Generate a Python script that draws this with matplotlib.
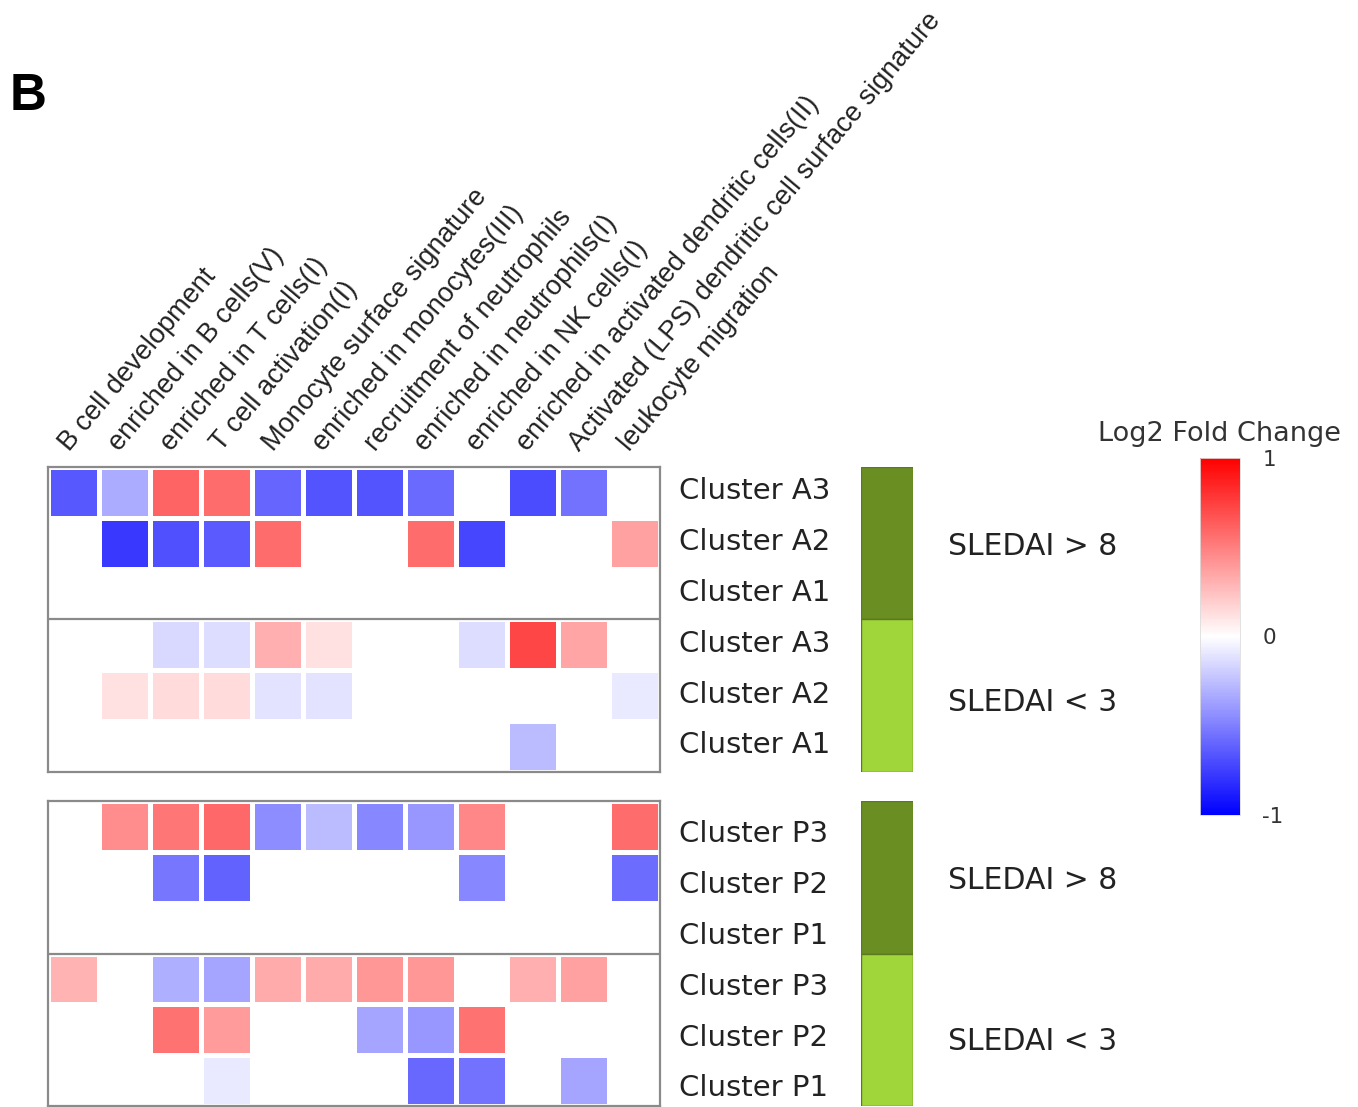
import numpy as np
import matplotlib
matplotlib.use("Agg")
import matplotlib.pyplot as plt
import matplotlib.transforms as mtransforms

plt.rcParams["axes.unicode_minus"] = False

# Gene modules (columns)
modules = [
    "B cell development",
    "enriched in B cells(V)",
    "enriched in T cells(I)",
    "T cell activation(I)",
    "Monocyte surface signature",
    "enriched in monocytes(III)",
    "recruitment of neutrophils",
    "enriched in neutrophils(I)",
    "enriched in NK cells(I)",
    "enriched in activated dendritic cells(II)",
    "Activated (LPS) dendritic cell surface signature",
    "leukocyte migration",
]

rows_a = ["Cluster A3", "Cluster A2", "Cluster A1", "Cluster A3", "Cluster A2", "Cluster A1"]
rows_p = ["Cluster P3", "Cluster P2", "Cluster P1", "Cluster P3", "Cluster P2", "Cluster P1"]

groups = ["SLEDAI > 8", "SLEDAI < 3"]
group_colors = ["#6b8e23", "#a0d63a"]

# Log2 fold change, adult clusters
lfc_a = [
    [-0.65, -0.33, 0.60, 0.57, -0.60, -0.67, -0.67, -0.58, 0.00, -0.70, -0.55, 0.00],
    [0.00, -0.78, -0.68, -0.64, 0.57, 0.00, 0.00, 0.57, -0.72, 0.00, 0.00, 0.37],
    [0.00, 0.00, 0.00, 0.00, 0.00, 0.00, 0.00, 0.00, 0.00, 0.00, 0.00, 0.00],
    [0.00, 0.00, -0.15, -0.13, 0.31, 0.12, 0.00, 0.00, -0.13, 0.72, 0.35, 0.00],
    [0.00, 0.12, 0.14, 0.14, -0.11, -0.11, 0.00, 0.00, 0.00, 0.00, 0.00, -0.09],
    [0.00, 0.00, 0.00, 0.00, 0.00, 0.00, 0.00, 0.00, 0.00, -0.27, 0.00, 0.00],
]

# Log2 fold change, pediatric clusters
lfc_p = [
    [0.00, 0.45, 0.53, 0.59, -0.45, -0.27, -0.47, -0.41, 0.47, 0.00, 0.00, 0.57],
    [0.00, 0.00, -0.53, -0.61, 0.00, 0.00, 0.00, 0.00, -0.47, 0.00, 0.00, -0.57],
    [0.00, 0.00, 0.00, 0.00, 0.00, 0.00, 0.00, 0.00, 0.00, 0.00, 0.00, 0.00],
    [0.30, 0.00, -0.31, -0.35, 0.33, 0.33, 0.41, 0.41, 0.00, 0.31, 0.37, 0.00],
    [0.00, 0.00, 0.55, 0.39, 0.00, 0.00, -0.35, -0.41, 0.55, 0.00, 0.00, 0.00],
    [0.00, 0.00, 0.00, -0.09, 0.00, 0.00, 0.00, -0.59, -0.55, 0.00, -0.35, 0.00],
]

W, H = 1358, 1107
fig = plt.figure(figsize=(W / 100, H / 100), dpi=100)

# odd number of levels so that 0 lands exactly on white
cmap = plt.get_cmap("bwr", 255)


def px_axes(x0, y0, x1, y1):
    return fig.add_axes([x0 / W, 1 - y1 / H, (x1 - x0) / W, (y1 - y0) / H])


def lift_labels(labels, pts):
    shift = mtransforms.ScaledTranslation(0, pts / 72, fig.dpi_scale_trans)
    for lbl in labels:
        lbl.set_transform(lbl.get_transform() + shift)


frame_gray = "#8a8a8a"


def heat_panel(box, data, labels, top_labels, label_lift):
    ax = px_axes(*box)
    arr = np.array(data)
    nr, nc = arr.shape
    mesh = ax.pcolormesh(np.arange(nc + 1), np.arange(nr + 1), arr, cmap=cmap,
                         vmin=-1, vmax=1, edgecolors="white", linewidth=2.2)
    ax.set_xlim(0, nc)
    ax.set_ylim(nr, 0)
    ax.axhline(nr / 2, color=frame_gray, lw=1.6)
    for s in ax.spines.values():
        s.set_color(frame_gray)
        s.set_linewidth(1.6)
    ax.yaxis.tick_right()
    ax.set_yticks(np.arange(nr) + 0.5)
    ax.set_yticklabels(labels, fontsize=21, family="DejaVu Sans", color="#222222")
    ax.tick_params(axis="y", length=0, pad=14)
    lift_labels(ax.get_yticklabels(), label_lift)
    if top_labels:
        ax.xaxis.tick_top()
        ax.set_xticks(np.arange(nc) + 0.5)
        ax.set_xticklabels(modules, rotation=50, ha="left", va="bottom",
                           rotation_mode="anchor", fontsize=19.5,
                           family="Liberation Sans", color="#222222")
        ax.tick_params(axis="x", length=0, pad=8)
    else:
        ax.set_xticks([])
    return mesh


def group_bar(box, label_lift):
    ax = px_axes(*box)
    ax.bar([0, 0], [3, 3], bottom=[0, 3], width=1.0, color=group_colors,
           edgecolor="#5a7a20", linewidth=1.0)
    ax.set_xlim(-0.5, 0.5)
    ax.set_ylim(6, 0)
    for s in ax.spines.values():
        s.set_visible(False)
    ax.set_xticks([])
    ax.yaxis.tick_right()
    ax.set_yticks([1.5, 4.5])
    ax.set_yticklabels(groups, fontsize=21.5, family="DejaVu Sans", color="#222222")
    ax.tick_params(axis="y", length=0, pad=25)
    lift_labels(ax.get_yticklabels()[1:], label_lift)


mesh = heat_panel((48, 467, 660, 772), lfc_a, rows_a, True, 3)
heat_panel((48, 801, 660, 1106), lfc_p, rows_p, False, -3.5)
group_bar((861, 467, 913, 772), -3)
group_bar((861, 801, 913, 1106), -6)

# Colour scale
cax = px_axes(1200, 458, 1240, 815)
cb = fig.colorbar(mesh, cax=cax, ticks=[-1, 0, 1])
cb.ax.set_yticklabels(["-1", "0", "1"], fontsize=15.5, family="DejaVu Sans", color="#333333")
cb.ax.tick_params(length=0, pad=16)
cb.outline.set_edgecolor("#dddddd")
cb.outline.set_linewidth(0.6)
cax.set_title("Log2 Fold Change", fontsize=19.5, family="DejaVu Sans",
              color="#333333", pad=12)

fig.text(10 / W, 1 - 110 / H, "B", fontsize=37, fontweight="bold",
         family="Liberation Sans", color="black")

fig.savefig("out.png", dpi=100, facecolor="white")
